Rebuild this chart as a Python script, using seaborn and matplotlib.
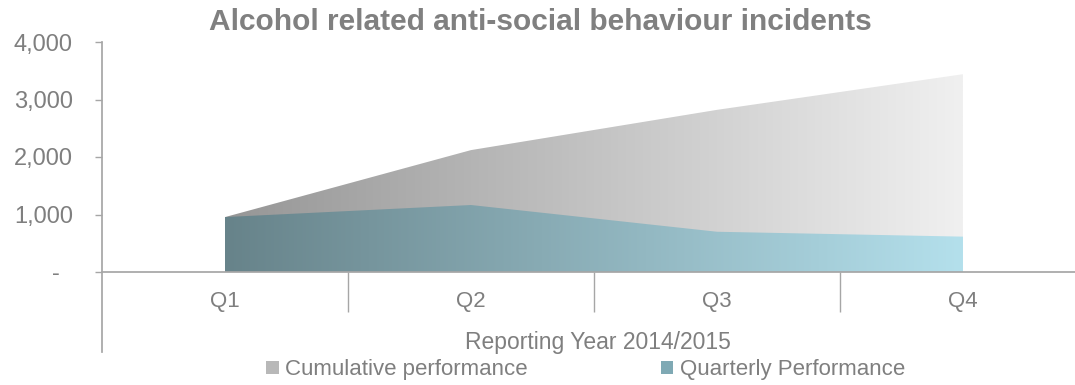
import numpy as np
import pandas as pd
import matplotlib
matplotlib.use('Agg')
import matplotlib.pyplot as plt
import seaborn as sns
from matplotlib.colors import LinearSegmentedColormap
from matplotlib.patches import Patch
from matplotlib.ticker import FuncFormatter

# data
quarters = ['Q1', 'Q2', 'Q3', 'Q4']
cumulative = [955, 2120, 2820, 3440]
quarterly = [955, 1165, 700, 615]
series_names = ['Cumulative performance', 'Quarterly Performance']

df = pd.DataFrame({'pos': range(len(quarters)), 'Cumulative': cumulative, 'Quarterly': quarterly})

sns.set_theme(style='white')
plt.rcParams['font.family'] = ['Liberation Sans', 'DejaVu Sans']
txt = '#7f7f7f'
axis_col = '#a6a6a6'

fig = plt.figure(figsize=(10.75, 3.85), dpi=100)
ax = fig.add_axes([102 / 1075, 1 - 272 / 385, 984 / 1075, 230 / 385])


def gradient_fill(ax, x, y, c0, c1):
    sns.lineplot(x=x, y=y, ax=ax, color=c1, linewidth=0)
    poly = ax.fill_between(x, 0, y, facecolor='none', edgecolor='none')
    cmap = LinearSegmentedColormap.from_list('g', [c0, c1])
    grad = np.linspace(0, 1, 256).reshape(1, -1)
    im = ax.imshow(grad, cmap=cmap, aspect='auto',
                   extent=[min(x), max(x), 0, max(y)], origin='lower', zorder=poly.get_zorder())
    im.set_clip_path(poly.get_paths()[0], transform=ax.transData)


gradient_fill(ax, df['pos'], df['Cumulative'], '#969696', '#f0f0f0')
gradient_fill(ax, df['pos'], df['Quarterly'], '#67838a', '#b4e0ec')

ax.set_xlim(-0.5, 3.5)
ax.set_ylim(0, 4000)

for s in ['top', 'right']:
    ax.spines[s].set_visible(False)
ax.spines['left'].set_color(axis_col)
ax.spines['bottom'].set_color(axis_col)
ax.spines['left'].set_bounds(-1390, 4000)

ax.set_yticks([0, 1000, 2000, 3000, 4000])
ax.yaxis.set_major_formatter(FuncFormatter(lambda v, p: '-  ' if v == 0 else f'{int(v):,}'))
ax.tick_params(axis='y', which='major', direction='out', length=5, width=1, color=axis_col,
               labelsize=17, labelcolor=txt, pad=16, left=True)

ax.set_xticks(range(len(quarters)))
ax.set_xticklabels(quarters)
ax.set_xticks([0.5, 1.5, 2.5], minor=True)
ax.tick_params(axis='x', which='major', length=0, labelsize=16, labelcolor=txt, pad=14)
ax.tick_params(axis='x', which='minor', direction='out', length=29, width=1, color=axis_col, bottom=True)

ax.set_xlabel('Reporting Year 2014/2015', fontsize=16.5, color=txt)
ax.xaxis.set_label_coords(0.504, -(331 - 272) / 230)
ax.xaxis.label.set_va('top')
ax.set_ylabel('')

fig.text(0.503, 0.978, 'Alcohol related anti-social behaviour incidents', ha='center', va='top',
         fontsize=21.5, fontweight='bold', color='#808080')

handles = [Patch(facecolor='#b8b8b8', edgecolor='none', label=series_names[0]),
           Patch(facecolor='#7fa9b4', edgecolor='none', label=series_names[1])]
leg = fig.legend(handles=handles, loc='center', bbox_to_anchor=(0.545, 0.04), ncol=2, frameon=False,
                 fontsize=16, handlelength=0.55, handleheight=0.55, handletextpad=0.3, columnspacing=6.0)
for t in leg.get_texts():
    t.set_color(txt)

fig.savefig('out.png', dpi=100)
